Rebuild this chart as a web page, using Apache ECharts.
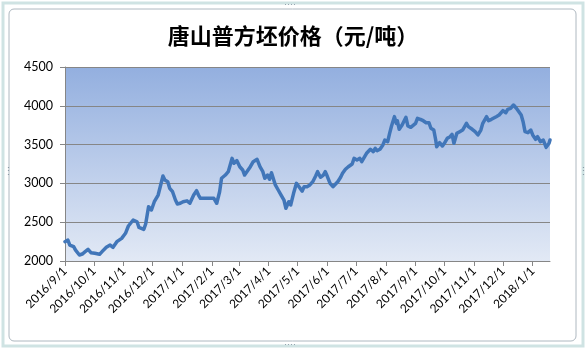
<!DOCTYPE html>
<html>
<head>
<meta charset="utf-8">
<script src="https://cdn.jsdelivr.net/npm/echarts@6/dist/echarts.min.js"></script>
<style>
html,body{margin:0;padding:0;background:#fff;}
#c{width:586px;height:350px;}
</style>
</head>
<body>
<div id="c"></div>
<script>
// ---- data ----
const titleText = '唐山普方坯价格（元/吨）';
const startDate = '2016/9/1';
const endDate = '2018/1/19';
const yTicks = [2000, 2500, 3000, 3500, 4000, 4500];

const keyDates = [
 '2016/9/1','2016/9/4','2016/9/6','2016/9/10','2016/9/12','2016/9/16','2016/9/19','2016/9/22','2016/9/25','2016/9/28',
 '2016/10/2','2016/10/7','2016/10/11','2016/10/14','2016/10/18','2016/10/21','2016/10/25','2016/10/30',
 '2016/11/3','2016/11/6','2016/11/11','2016/11/15','2016/11/17','2016/11/22','2016/11/24','2016/11/27','2016/11/29','2016/11/30',
 '2016/12/3','2016/12/5','2016/12/7','2016/12/9','2016/12/12','2016/12/14','2016/12/17','2016/12/19','2016/12/22','2016/12/25','2016/12/27','2016/12/30',
 '2017/1/2','2017/1/6','2017/1/9','2017/1/13','2017/1/16','2017/1/18','2017/1/20',
 '2017/2/3','2017/2/6','2017/2/9','2017/2/11','2017/2/15','2017/2/18','2017/2/20','2017/2/22','2017/2/24','2017/2/27',
 '2017/3/2','2017/3/5','2017/3/7','2017/3/9','2017/3/13','2017/3/16','2017/3/18','2017/3/20','2017/3/23','2017/3/26','2017/3/28','2017/3/31',
 '2017/4/2','2017/4/4','2017/4/8','2017/4/11','2017/4/14','2017/4/17','2017/4/19','2017/4/22','2017/4/24','2017/4/27','2017/4/30',
 '2017/5/2','2017/5/6','2017/5/8','2017/5/11','2017/5/14','2017/5/17','2017/5/20','2017/5/22','2017/5/25','2017/5/28','2017/5/30',
 '2017/6/1','2017/6/4','2017/6/7','2017/6/9','2017/6/12','2017/6/15','2017/6/17','2017/6/20','2017/6/23','2017/6/27','2017/6/29',
 '2017/7/2','2017/7/5','2017/7/7','2017/7/10','2017/7/12','2017/7/16','2017/7/19','2017/7/21','2017/7/23','2017/7/26','2017/7/29','2017/7/31',
 '2017/8/3','2017/8/5','2017/8/7','2017/8/10','2017/8/12','2017/8/13','2017/8/15','2017/8/18','2017/8/20','2017/8/22','2017/8/24','2017/8/27','2017/8/29',
 '2017/9/1','2017/9/3','2017/9/6','2017/9/9','2017/9/12','2017/9/15','2017/9/17','2017/9/20','2017/9/22','2017/9/23','2017/9/26','2017/9/29',
 '2017/10/1','2017/10/4','2017/10/7','2017/10/9','2017/10/11','2017/10/14','2017/10/17','2017/10/20','2017/10/24','2017/10/26','2017/10/30',
 '2017/11/2','2017/11/5','2017/11/8','2017/11/10','2017/11/14','2017/11/16','2017/11/19','2017/11/21','2017/11/24','2017/11/27','2017/11/29',
 '2017/12/1','2017/12/4','2017/12/6','2017/12/9','2017/12/12','2017/12/15','2017/12/17','2017/12/20','2017/12/22','2017/12/24','2017/12/27','2017/12/30',
 '2018/1/1','2018/1/4','2018/1/6','2018/1/9','2018/1/12','2018/1/15','2018/1/18','2018/1/19'
];
const prices = [
 2249,2270,2206,2185,2140,2077,2090,2120,2150,2107,
 2100,2086,2140,2176,2206,2176,2249,2292,
 2357,2451,2528,2506,2434,2408,2477,2700,2722,2657,
 2764,2744,2850,2872,3095,3044,3022,2937,2893,2786,2735,2744,
 2764,2775,2744,2850,2906,2850,2808,
 2808,2744,2893,3066,3108,3151,3237,3323,3259,3293,
 3215,3173,3108,3130,3215,3280,3259,3310,3215,3151,3066,3108,
 3053,3138,2980,2915,2850,2786,2679,2764,2722,2872,3001,
 3010,2900,2958,2958,2980,3022,3095,3151,3079,3108,3151,
 3095,3001,2958,2967,3022,3079,3130,3182,3215,3250,3323,
 3302,3323,3280,3344,3388,3440,3409,3452,3422,3440,3495,3559,
 3537,3645,3740,3860,3774,3808,3697,3753,3774,3852,3740,3723,3710,
 3774,3839,3826,3808,3782,3782,3710,3688,3559,3473,3525,3482,
 3517,3581,3602,3632,3517,3645,3667,3688,3774,3731,3697,
 3667,3624,3688,3774,3860,3808,3826,3817,3860,3882,3895,
 3937,3911,3955,3968,4010,3968,3968,3882,3795,3667,3654,3688,
 3624,3568,3602,3538,3559,3465,3517,3559
];

// ---- build daily category axis ----
function parseD(s){const p=s.split('/').map(Number);return Date.UTC(p[0],p[1]-1,p[2]);}
const categories = [];
for(let t=parseD(startDate); t<=parseD(endDate); t+=86400000){
  const d=new Date(t);
  categories.push(d.getUTCFullYear()+'/'+(d.getUTCMonth()+1)+'/'+d.getUTCDate());
}
const priceMap = {};
keyDates.forEach((k,i)=>{priceMap[k]=prices[i];});
const seriesData = categories.map(c => (c in priceMap) ? priceMap[c] : null);
const isMonthStart = (idx, val) => String(categories[idx]).split('/')[2] === '1';

const chart = echarts.init(document.getElementById('c'), null, {renderer:'canvas'});
const axisGray = '#868686';
const font = 'Lato, "Noto Sans", sans-serif';
chart.setOption({
  animation:false,
  backgroundColor:'#ffffff',
  title:{
    text:titleText, left:288, top:20, textAlign:'center',
    textStyle:{fontFamily:'"Noto Sans CJK SC", sans-serif', fontWeight:'bold', fontSize:22, color:'#000'}
  },
  graphic:[
    {type:'rect', shape:{x:3,y:3,width:580,height:343}, style:{fill:'none', stroke:'#cfe3e3', lineWidth:3}, z:-1},
    {type:'rect', shape:{x:9,y:9,width:567,height:332,r:5}, style:{fill:'none', stroke:'#aeb8c0', lineWidth:1}, z:-1},
    {type:'text', left:284, top:0, style:{text:'····', fill:'#8a9aa6', fontSize:9}},
    {type:'text', left:284, top:340, style:{text:'····', fill:'#8a9aa6', fontSize:9}},
    {type:'text', left:3, top:166, style:{text:'⋮', fill:'#8a9aa6', fontSize:11}},
    {type:'text', left:578, top:166, style:{text:'⋮', fill:'#8a9aa6', fontSize:11}}
  ],
  grid:{
    left:65, right:36, top:67, bottom:89, show:true, borderWidth:0,
    backgroundColor:{type:'linear', x:0, y:0, x2:0, y2:1, colorStops:[{offset:0,color:'#93afdf'},{offset:1,color:'#e2e9f5'}]}
  },
  xAxis:{
    type:'category', data:categories, boundaryGap:false,
    axisLine:{show:true, lineStyle:{color:axisGray, width:1}},
    axisTick:{show:true, interval:isMonthStart, length:5, lineStyle:{color:axisGray}},
    axisLabel:{interval:isMonthStart, rotate:45, fontSize:12, color:'#000', fontFamily:font, margin:8},
    splitLine:{show:false}
  },
  yAxis:{
    type:'value', min:yTicks[0], max:yTicks[yTicks.length-1], interval:500,
    axisLine:{show:true, lineStyle:{color:axisGray, width:1}},
    axisTick:{show:true, length:5, lineStyle:{color:axisGray}},
    axisLabel:{fontSize:12.5, color:'#000', fontFamily:font, margin:12, formatter:v => String(v)},
    splitLine:{show:true, lineStyle:{color:axisGray, width:1}}
  },
  series:[{
    type:'line', data:seriesData, connectNulls:true, showSymbol:false, symbol:'none',
    lineStyle:{color:'#4176b9', width:3.5, join:'round', cap:'round'}
  }]
});
</script>
</body>
</html>
